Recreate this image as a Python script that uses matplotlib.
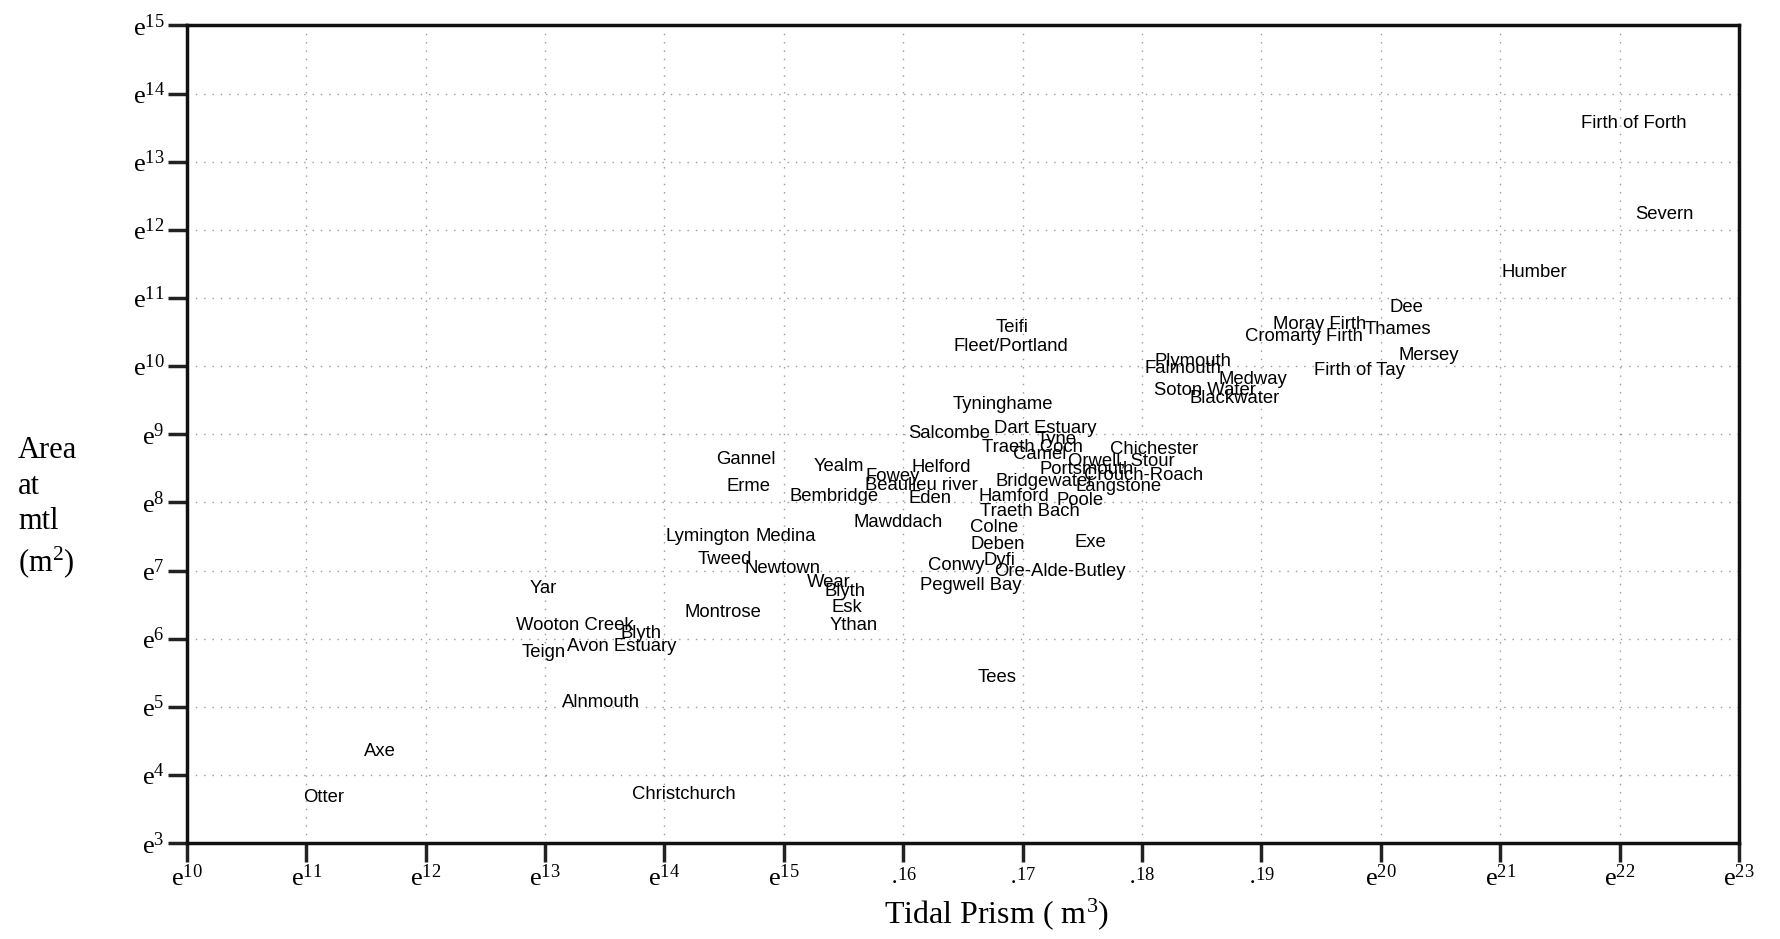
import numpy as np
import matplotlib
matplotlib.use("Agg")
import matplotlib.pyplot as plt
from matplotlib.ticker import FixedLocator, FixedFormatter, NullLocator

plt.rcParams['mathtext.fontset'] = 'custom'
plt.rcParams['mathtext.rm'] = 'Liberation Serif'
plt.rcParams['mathtext.it'] = 'Liberation Serif:italic'

# estuary names with ln(tidal prism, m3) and ln(area at mtl, m2)
names = ["Firth of Forth", "Severn", "Humber", "Dee", "Moray Firth", "Thames",
         "Cromarty Firth", "Mersey", "Firth of Tay", "Plymouth", "Falmouth",
         "Medway", "Soton Water", "Blackwater", "Teifi", "Fleet/Portland",
         "Tyninghame", "Salcombe", "Dart Estuary", "Tyne", "Traeth Coch", "Camel",
         "Chichester", "Orwell, Stour", "Portsmouth", "Crouch-Roach", "Langstone",
         "Bridgewater", "Hamford", "Poole", "Traeth Bach", "Colne", "Deben", "Exe",
         "Dyfi", "Conwy", "Ore-Alde-Butley", "Pegwell Bay", "Tees", "Helford",
         "Eden", "Fowey", "Beaulieu river", "Yealm", "Bembridge", "Mawddach",
         "Gannel", "Erme", "Lymington", "Medina", "Tweed", "Newtown", "Wear",
         "Blyth", "Esk", "Ythan", "Montrose", "Yar", "Wooton Creek", "Blyth",
         "Teign", "Avon Estuary", "Alnmouth", "Axe", "Otter", "Christchurch"]
ln_prism = [21.68, 22.13, 21.01, 20.07, 19.10, 19.86,
            18.86, 20.15, 19.44, 18.10, 18.02,
            18.64, 18.10, 18.40, 16.77, 16.42,
            16.41, 16.04, 16.76, 17.12, 16.66, 16.92,
            17.73, 17.38, 17.14, 17.51, 17.44,
            16.77, 16.63, 17.28, 16.64, 16.56, 16.56, 17.43,
            16.67, 16.21, 16.76, 16.14, 16.62, 16.07,
            16.04, 15.68, 15.68, 15.25, 15.05, 15.58,
            14.43, 14.52, 14.01, 14.76, 14.28, 14.67, 15.19,
            15.34, 15.40, 15.38, 14.17, 12.87, 12.76, 13.63,
            12.80, 13.18, 13.14, 11.48, 10.97, 13.73]
ln_area = [13.59, 12.25, 11.40, 10.89, 10.64, 10.57,
           10.46, 10.19, 9.97, 10.09, 9.99,
           9.84, 9.67, 9.56, 10.59, 10.32,
           9.47, 9.04, 9.11, 8.96, 8.84, 8.74,
           8.81, 8.64, 8.51, 8.43, 8.26,
           8.33, 8.11, 8.06, 7.89, 7.66, 7.41, 7.44,
           7.18, 7.11, 7.01, 6.81, 5.46, 8.54,
           8.08, 8.41, 8.28, 8.56, 8.11, 7.73,
           8.66, 8.26, 7.53, 7.53, 7.19, 7.06, 6.86,
           6.73, 6.49, 6.23, 6.41, 6.76, 6.23, 6.10,
           5.83, 5.91, 5.10, 4.38, 3.70, 3.75]

x_exp = list(range(10, 24))
y_exp = list(range(3, 16))
# the scan lost the "e" on these tick labels
x_ticklabels = [r'$\mathrm{e}^{%d}$' % k if k not in (16, 17, 18, 19) else r'$\cdot^{%d}$' % k
                for k in x_exp]
y_ticklabels = [r'$\mathrm{e}^{%d}$' % k for k in y_exp]

fig = plt.figure(figsize=(17.8, 9.39), dpi=100)
ax = fig.add_axes([0.105, 0.102, 0.872, 0.871])

ax.set_xscale('log', base=np.e)
ax.set_yscale('log', base=np.e)
ax.set_xlim(np.exp(10), np.exp(23))
ax.set_ylim(np.exp(3), np.exp(15))

for name, px, py in zip(names, ln_prism, ln_area):
    ax.text(np.exp(px), np.exp(py), name, ha='left', va='center_baseline',
            fontsize=13.3, family='Liberation Sans', color='black')

ax.xaxis.set_major_locator(FixedLocator(np.exp(x_exp)))
ax.xaxis.set_major_formatter(FixedFormatter(x_ticklabels))
ax.yaxis.set_major_locator(FixedLocator(np.exp(y_exp)))
ax.yaxis.set_major_formatter(FixedFormatter(y_ticklabels))
ax.xaxis.set_minor_locator(NullLocator())
ax.yaxis.set_minor_locator(NullLocator())

ax.tick_params(axis='both', direction='out', length=14, width=2.5, labelsize=19,
               top=False, right=False, color='#222222')
ax.tick_params(axis='x', pad=2)
ax.tick_params(axis='y', pad=2)

ax.grid(True, linestyle=(0, (1, 5)), color='#999999', linewidth=1.0)
for sp in ax.spines.values():
    sp.set_linewidth(2.5)
    sp.set_color('#111111')

fig.text(997 / 1780, 1 - 914 / 939, 'Tidal Prism ( m$^3$)', ha='center', va='center',
         fontsize=23, family='Liberation Serif')
fig.text(18 / 1780, 1 - 508 / 939, 'Area\nat\nmtl\n(m$^2$)', ha='left', va='center',
         fontsize=22, family='Liberation Serif', linespacing=1.3)

fig.savefig('out.png', dpi=100)
